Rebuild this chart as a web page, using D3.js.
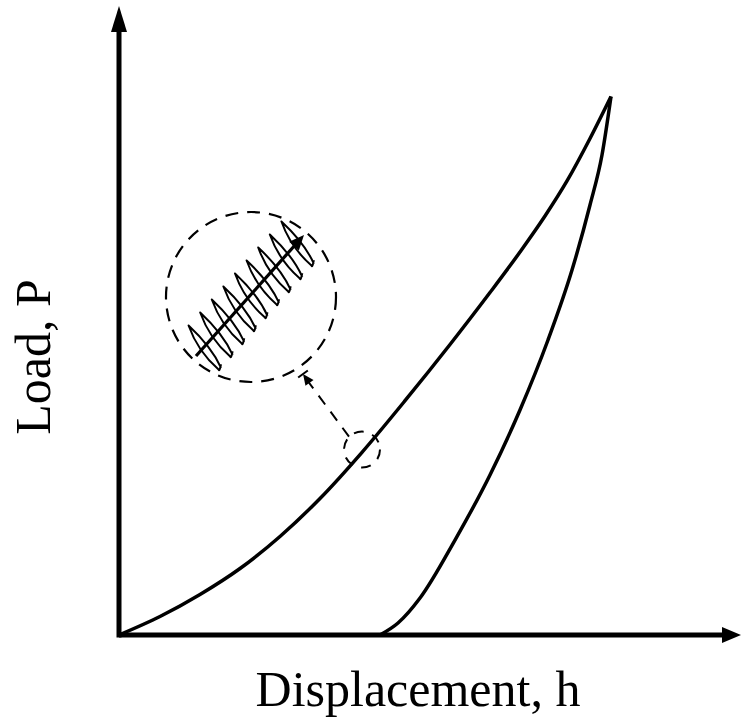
<!DOCTYPE html>
<html>
<head>
<meta charset="utf-8">
<script src="https://cdn.jsdelivr.net/npm/d3@7/dist/d3.min.js"></script>
<style>
  html, body { margin: 0; padding: 0; background: #fff; }
  svg { display: block; }
</style>
</head>
<body>
<svg id="chart" width="741" height="718"></svg>
<script>
// ---- data (schematic units: displacement h and load P, 0..100) ----
const loadingH   = [0, 6.83, 13.5, 20.17, 26.83, 33.5, 40.5, 47.67, 55.17, 61.83, 66.83, 71.0, 74.67, 78.5, 82.0];
const loadingP   = [0, 3.08, 6.75, 11.08, 16.42, 22.75, 30.45, 39.05, 48.42, 57.08, 63.83, 69.83, 75.67, 82.75, 89.75];
const unloadingH = [43.5, 46.5, 50.17, 56.0, 61.83, 66.83, 71.5, 75.5, 78.5, 80.5, 82.0];
const unloadingP = [0, 2.0, 6.17, 15.83, 26.67, 37.5, 49.17, 60.83, 71.67, 80.0, 89.75];
const xLabel = "Displacement, h";
const yLabel = "Load, P";
// zoomed detail: point on the loading curve that is magnified, and the number of small cycles
const detailPoint = [40.5, 30.9];
const cycleCount = 9;

const svg = d3.select("#chart");
const x = d3.scaleLinear().domain([0, 100]).range([119, 719]);
const y = d3.scaleLinear().domain([0, 100]).range([635, 35]);

// ---- axes ----
svg.append("line").attr("x1", x(0)).attr("y1", y(0)).attr("x2", 726).attr("y2", y(0))
  .attr("stroke", "#000").attr("stroke-width", 5);
svg.append("path").attr("d", `M741,${y(0)} L722,${y(0)-8} L722,${y(0)+8} Z`).attr("fill", "#000");
svg.append("line").attr("x1", x(0)).attr("y1", y(0) + 2.5).attr("x2", x(0)).attr("y2", 28)
  .attr("stroke", "#000").attr("stroke-width", 5);
svg.append("path").attr("d", `M${x(0)},6 L${x(0)-8},32 L${x(0)+8},32 Z`).attr("fill", "#000");

// ---- curves ----
const line = d3.line().x(d => x(d[0])).y(d => y(d[1])).curve(d3.curveMonotoneX);
svg.append("path").attr("d", line(loadingH.map((h, i) => [h, loadingP[i]])))
  .attr("fill", "none").attr("stroke", "#000").attr("stroke-width", 3.5).attr("stroke-linejoin", "round");
svg.append("path").attr("d", line(unloadingH.map((h, i) => [h, unloadingP[i]])))
  .attr("fill", "none").attr("stroke", "#000").attr("stroke-width", 3.5).attr("stroke-linejoin", "round");

// ---- small dashed circle on the curve ----
const sc = [x(detailPoint[0]), y(detailPoint[1])];
svg.append("circle").attr("cx", sc[0]).attr("cy", sc[1]).attr("r", 18)
  .attr("fill", "none").attr("stroke", "#000").attr("stroke-width", 2)
  .attr("stroke-dasharray", "10,9");

// ---- big dashed circle (magnified view) ----
const bc = [251, 297], br = 85;
svg.append("circle").attr("cx", bc[0]).attr("cy", bc[1]).attr("r", br)
  .attr("fill", "none").attr("stroke", "#000").attr("stroke-width", 2.2)
  .attr("stroke-dasharray", "13,9");

// dashed connector with arrowhead
const c0 = [sc[0] - 13, sc[1] - 13], c1 = [303, 374];
svg.append("line").attr("x1", c0[0]).attr("y1", c0[1]).attr("x2", c1[0] + 4).attr("y2", c1[1] + 6)
  .attr("stroke", "#000").attr("stroke-width", 2).attr("stroke-dasharray", "11,9");
{
  const ang = Math.atan2(c1[1] - c0[1], c1[0] - c0[0]);
  const L = 11, W = 5;
  const bx = c1[0] - L * Math.cos(ang), by = c1[1] - L * Math.sin(ang);
  const px = -Math.sin(ang), py = Math.cos(ang);
  svg.append("path").attr("d", `M${c1[0]},${c1[1]} L${bx + W*px},${by + W*py} L${bx - W*px},${by - W*py} Z`).attr("fill", "#000");
  svg.append("line").attr("x1", c1[0] - 6*px).attr("y1", c1[1] - 6*py).attr("x2", c1[0] + 6*px).attr("y2", c1[1] + 6*py)
    .attr("stroke", "#000").attr("stroke-width", 2);
}

// ---- cyclic loops inside magnified view ----
const A = [196, 356], B = [304, 235];
const g = svg.append("g");
const ax = [30, 44];                       // loop axis (bottom - peak)
const alen = Math.hypot(ax[0], ax[1]);
const u = [ax[0] / alen, ax[1] / alen];
const perp = [-u[1], u[0]];
for (let i = 0; i < cycleCount; i++) {
  const t = 0.07 + i * (0.86 / (cycleCount - 1));
  const cx = A[0] + (B[0] - A[0]) * t, cy = A[1] + (B[1] - A[1]) * t;
  const peak = [cx - ax[0] / 2, cy - ax[1] / 2];
  const bot = [cx + ax[0] / 2, cy + ax[1] / 2];
  const w = 7;
  const q1 = [cx + perp[0] * w, cy + perp[1] * w];
  const q2 = [cx - perp[0] * w + u[0]*4, cy - perp[1] * w + u[1]*4];
  const hook = [bot[0] - perp[0] * 5 - u[0] * 3, bot[1] - perp[1] * 5 - u[1] * 3];
  g.append("path")
    .attr("d", `M${hook[0]},${hook[1]} Q${bot[0]-perp[0]*1},${bot[1]+3} ${bot[0]},${bot[1]} Q${q1[0]},${q1[1]} ${peak[0]},${peak[1]} Q${q2[0]},${q2[1]} ${bot[0]-perp[0]*3},${bot[1]-perp[1]*3}`)
    .attr("fill", "none").attr("stroke", "#000").attr("stroke-width", 2).attr("stroke-linejoin", "round");
}
// arrow through loops
svg.append("line").attr("x1", A[0]).attr("y1", A[1]).attr("x2", B[0] - 8).attr("y2", B[1] + 9)
  .attr("stroke", "#000").attr("stroke-width", 3.2);
{
  const ang = Math.atan2(B[1] - A[1], B[0] - A[0]);
  const L = 15, W = 6.5;
  const bx = B[0] - L * Math.cos(ang), by = B[1] - L * Math.sin(ang);
  const px = -Math.sin(ang), py = Math.cos(ang);
  svg.append("path").attr("d", `M${B[0]},${B[1]} L${bx + W*px},${by + W*py} L${bx - W*px},${by - W*py} Z`).attr("fill", "#000");
}

// ---- labels ----
svg.append("text").attr("x", 418).attr("y", 706).attr("text-anchor", "middle")
  .attr("font-family", "'Liberation Serif', 'Times New Roman', serif").attr("font-size", 50)
  .attr("fill", "#000").text(xLabel);
svg.append("text").attr("transform", "translate(50,357) rotate(-90)").attr("text-anchor", "middle")
  .attr("font-family", "'Liberation Serif', 'Times New Roman', serif").attr("font-size", 50)
  .attr("fill", "#000").text(yLabel);
</script>
</body>
</html>
